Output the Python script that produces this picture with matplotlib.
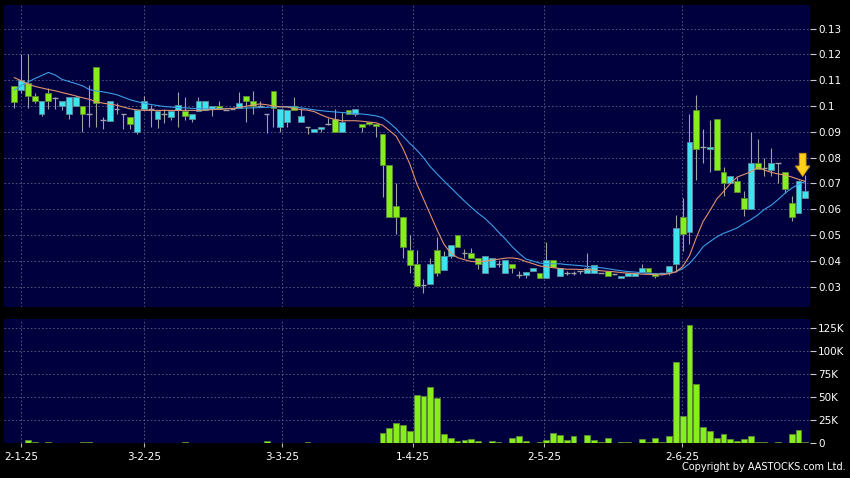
import matplotlib
matplotlib.use("Agg")
import matplotlib.pyplot as plt
from matplotlib.patches import FancyArrow

# daily candles, 31-12-24 .. early 6-25 (one entry per trading day)
opens = [0.1077, 0.1061, 0.109, 0.104, 0.097, 0.105, 0.103, 0.100, 0.097, 0.100,
         0.100, 0.097, 0.115, 0.0945, 0.0942, 0.099, 0.097, 0.0958, 0.090, 0.099,
         0.099, 0.095, 0.097, 0.0958, 0.0983, 0.098, 0.095, 0.098, 0.0983, 0.099,
         0.100, 0.0985, 0.099, 0.0994, 0.104, 0.102, 0.100, 0.097, 0.106, 0.092,
         0.0938, 0.100, 0.0938, 0.092, 0.090, 0.091, 0.093, 0.095, 0.090, 0.0983,
         0.0968, 0.0932, 0.094, 0.0932, 0.089, 0.077, 0.0613, 0.057, 0.0443, 0.039,
         0.0308, 0.031, 0.0443, 0.0366, 0.042, 0.050, 0.043, 0.043, 0.041, 0.0353,
         0.0375, 0.039, 0.0353, 0.039, 0.0344, 0.0344, 0.0362, 0.0353, 0.0334, 0.0404,
         0.034, 0.0355, 0.0355, 0.036, 0.0353, 0.0353, 0.0355, 0.036, 0.035, 0.0334,
         0.034, 0.034, 0.0359, 0.0372, 0.0353, 0.0355, 0.0357, 0.039, 0.057, 0.0513,
         0.0983, 0.084, 0.0833, 0.095, 0.0743, 0.070, 0.0709, 0.0642, 0.060, 0.078,
         0.076, 0.0752, 0.078, 0.0743, 0.0623, 0.0585, 0.0642]
highs = [0.1077, 0.120, 0.120, 0.1049, 0.102, 0.107, 0.1035, 0.102, 0.1036, 0.104,
         0.100, 0.108, 0.115, 0.0957, 0.102, 0.101, 0.097, 0.0958, 0.0986, 0.104,
         0.1003, 0.098, 0.099, 0.098, 0.1054, 0.1033, 0.097, 0.1033, 0.102, 0.1001,
         0.1019, 0.0985, 0.099, 0.1053, 0.104, 0.106, 0.102, 0.097, 0.106, 0.099,
         0.0983, 0.1035, 0.0994, 0.092, 0.091, 0.092, 0.0955, 0.099, 0.0975, 0.0983,
         0.099, 0.0932, 0.094, 0.0932, 0.089, 0.077, 0.070, 0.057, 0.050, 0.0443,
         0.033, 0.041, 0.0494, 0.044, 0.0462, 0.050, 0.0448, 0.0452, 0.041, 0.042,
         0.041, 0.0405, 0.0404, 0.039, 0.036, 0.0359, 0.0372, 0.0353, 0.0475, 0.0404,
         0.0372, 0.036, 0.036, 0.036, 0.043, 0.0385, 0.0355, 0.036, 0.035, 0.034,
         0.0353, 0.0353, 0.039, 0.0372, 0.0353, 0.0355, 0.0382, 0.0578, 0.0642, 0.097,
         0.1041, 0.091, 0.0947, 0.095, 0.0765, 0.073, 0.0725, 0.067, 0.090, 0.0874,
         0.080, 0.0836, 0.078, 0.0745, 0.065, 0.0712, 0.0732]
lows = [0.0992, 0.1050, 0.0991, 0.101, 0.096, 0.099, 0.099, 0.0983, 0.0951, 0.100,
        0.090, 0.0919, 0.092, 0.0911, 0.0942, 0.097, 0.091, 0.091, 0.089, 0.099,
        0.092, 0.0913, 0.0935, 0.0945, 0.092, 0.0945, 0.094, 0.098, 0.0983, 0.0961,
        0.099, 0.0985, 0.099, 0.0994, 0.0938, 0.097, 0.100, 0.0895, 0.092, 0.090,
        0.092, 0.0983, 0.0938, 0.089, 0.090, 0.090, 0.0925, 0.090, 0.090, 0.0968,
        0.0962, 0.090, 0.0925, 0.088, 0.0649, 0.057, 0.0505, 0.0411, 0.0353, 0.0304,
        0.0277, 0.031, 0.034, 0.0366, 0.041, 0.0456, 0.041, 0.0411, 0.0368, 0.0353,
        0.0375, 0.0375, 0.0353, 0.0355, 0.0335, 0.0335, 0.0362, 0.0334, 0.0334, 0.0375,
        0.034, 0.0345, 0.0345, 0.0348, 0.0353, 0.0353, 0.0355, 0.034, 0.0345, 0.0334,
        0.034, 0.034, 0.0359, 0.0359, 0.0335, 0.0355, 0.0345, 0.0357, 0.0439, 0.0467,
        0.0714, 0.078, 0.0745, 0.0752, 0.065, 0.070, 0.0668, 0.0576, 0.060, 0.0756,
        0.073, 0.073, 0.070, 0.0665, 0.0554, 0.0585, 0.0642]
closes = [0.1017, 0.110, 0.104, 0.102, 0.102, 0.102, 0.103, 0.102, 0.1033, 0.1033,
          0.097, 0.097, 0.101, 0.0945, 0.102, 0.099, 0.097, 0.0932, 0.0986, 0.102,
          0.099, 0.098, 0.097, 0.098, 0.1003, 0.096, 0.097, 0.102, 0.102, 0.100,
          0.099, 0.0985, 0.099, 0.101, 0.102, 0.100, 0.100, 0.097, 0.0994, 0.099,
          0.0983, 0.0983, 0.096, 0.092, 0.091, 0.092, 0.093, 0.090, 0.094, 0.0968,
          0.099, 0.092, 0.093, 0.0922, 0.077, 0.057, 0.0571, 0.0453, 0.0385, 0.0305,
          0.0308, 0.039, 0.0353, 0.042, 0.0462, 0.0456, 0.043, 0.0411, 0.0389, 0.042,
          0.041, 0.039, 0.0404, 0.0372, 0.0344, 0.0359, 0.0372, 0.0334, 0.0404, 0.0375,
          0.0372, 0.0355, 0.0355, 0.036, 0.0372, 0.0385, 0.0355, 0.034, 0.035, 0.034,
          0.0353, 0.0353, 0.0372, 0.0359, 0.034, 0.0355, 0.0382, 0.0527, 0.0503, 0.0861,
          0.0833, 0.084, 0.0841, 0.0752, 0.070, 0.073, 0.0668, 0.060, 0.078, 0.0756,
          0.076, 0.078, 0.078, 0.068, 0.0571, 0.071, 0.067]

# 10-day and 20-day averages as drawn on the chart
ma10 = [0.1110, 0.1098, 0.1085, 0.1076, 0.1070, 0.1064, 0.1059, 0.1052, 0.1046, 0.1039,
        0.1032, 0.1026, 0.1017, 0.1011, 0.1007, 0.1003, 0.0996, 0.0989, 0.0985, 0.0983,
        0.0983, 0.0983, 0.0983, 0.0983, 0.0983, 0.0983, 0.0983, 0.0983, 0.0984, 0.0986,
        0.0987, 0.0989, 0.0990, 0.0995, 0.0999, 0.1004, 0.1008, 0.1005, 0.1000, 0.0997,
        0.0996, 0.0990, 0.0986, 0.0984, 0.0978, 0.0966, 0.0955, 0.0948, 0.0943, 0.0943,
        0.0943, 0.0941, 0.0938, 0.0935, 0.0926, 0.0905, 0.0883, 0.0835, 0.0775, 0.0700,
        0.0640, 0.0580, 0.0520, 0.0465, 0.0430, 0.0413, 0.0405, 0.0398, 0.0397, 0.0399,
        0.0403, 0.0407, 0.0411, 0.0412, 0.0408, 0.0398, 0.0390, 0.0381, 0.0377, 0.0374,
        0.0371, 0.0368, 0.0368, 0.0367, 0.0366, 0.0365, 0.0362, 0.0360, 0.0358, 0.0355,
        0.0353, 0.0351, 0.0349, 0.0348, 0.0347, 0.0346, 0.0351, 0.0358, 0.0378, 0.0420,
        0.0490, 0.0553, 0.0595, 0.0640, 0.0669, 0.0700, 0.0725, 0.0735, 0.0745, 0.0762,
        0.0752, 0.0743, 0.0737, 0.0733, 0.0725, 0.0716, 0.0708]
ma20 = [0.1062, 0.1079, 0.1093, 0.1106, 0.1118, 0.1130, 0.1120, 0.1103, 0.1095, 0.1087,
        0.1078, 0.1064, 0.1058, 0.1055, 0.1050, 0.1044, 0.1034, 0.1024, 0.1017, 0.1011,
        0.1006, 0.1002, 0.0998, 0.0996, 0.0994, 0.0993, 0.0991, 0.0990, 0.0989, 0.0988,
        0.0989, 0.0990, 0.0991, 0.0992, 0.0992, 0.0993, 0.0994, 0.0995, 0.0996, 0.0997,
        0.0998, 0.0997, 0.0993, 0.0989, 0.0985, 0.0982, 0.0979, 0.0977, 0.0975, 0.0973,
        0.0971, 0.0969, 0.0966, 0.0962, 0.0955, 0.0935, 0.0912, 0.0883, 0.0855, 0.0830,
        0.0800, 0.0765, 0.0737, 0.0710, 0.0684, 0.0658, 0.0632, 0.0608, 0.0585, 0.0565,
        0.0540, 0.0512, 0.0485, 0.0455, 0.0430, 0.0408, 0.0400, 0.0392, 0.0389, 0.0389,
        0.0389, 0.0386, 0.0384, 0.0382, 0.0379, 0.0376, 0.0374, 0.0370, 0.0366, 0.0362,
        0.0359, 0.0357, 0.0354, 0.0352, 0.0350, 0.0349, 0.0352, 0.0358, 0.0370, 0.0390,
        0.0420, 0.0455, 0.0475, 0.0493, 0.0507, 0.0517, 0.0528, 0.0545, 0.0560, 0.0578,
        0.0600, 0.0616, 0.0638, 0.0662, 0.0682, 0.0697, 0.0708]

# volume in thousands of shares
volume_k = [0.3, 0.5, 3.5, 1.0, 0.3, 1.0, 0.3, 0.3, 0.3, 0.3,
            1.2, 1.2, 0.3, 0.3, 0.3, 0.3, 0.3, 0.8, 0.3, 0.3,
            0.3, 0.3, 0.3, 0.3, 0.3, 1.2, 0.3, 0.3, 0.3, 0.3,
            0.3, 0.3, 0.3, 0.8, 0.8, 0.3, 0.3, 2.8, 0.3, 0.3,
            0.3, 0.3, 0.3, 1.3, 0.3, 0.3, 0.8, 0.3, 0.3, 0.3,
            0.3, 0.3, 0.3, 0.3, 11.5, 17.0, 21.7, 19.9, 13.7, 52.5,
            51.7, 61.5, 48.9, 9.8, 5.4, 2.9, 3.3, 4.3, 3.0, 0.5,
            2.0, 1.3, 0.3, 5.4, 7.9, 2.5, 0.3, 1.3, 3.3, 11.2,
            9.0, 3.3, 7.9, 0.3, 9.0, 3.3, 1.0, 5.4, 0.3, 1.0,
            1.0, 0.3, 4.3, 1.3, 5.8, 1.8, 8.3, 88.7, 29.7, 128.6,
            64.5, 17.4, 13.7, 6.2, 9.8, 4.3, 2.5, 4.3, 7.9, 1.8,
            1.3, 0.3, 1.3, 0.5, 9.8, 14.5, 1.3]

date_labels = ['2-1-25', '3-2-25', '3-3-25', '1-4-25', '2-5-25', '2-6-25']
date_pos = [1, 19, 39.25, 58.45, 77.7, 97.95]

price_ticks = [0.03, 0.04, 0.05, 0.06, 0.07, 0.08, 0.09, 0.10, 0.11, 0.12, 0.13]
price_labels = ['0.03', '0.04', '0.05', '0.06', '0.07', '0.08', '0.09', '0.1', '0.11', '0.12', '0.13']
vol_ticks = [0, 25, 50, 75, 100, 125]
vol_labels = ['0', '25K', '50K', '75K', '100K', '125K']

BG = '#00003f'
UP = '#3de3ef'
DOWN = '#86ee1e'
GRID = '#5f5f86'


def style_axis(ax):
    ax.set_facecolor(BG)
    for s in ax.spines.values():
        s.set_visible(False)
    ax.set_xlim(-1.51, 116.67)
    ax.yaxis.tick_right()
    ax.tick_params(axis='y', colors='#cccccc', labelcolor='white', length=4,
                   width=0.8, labelsize=7.5, pad=2)
    ax.grid(True, color=GRID, linestyle=(0, (2, 2.5)), linewidth=0.6)
    ax.set_axisbelow(True)


fig = plt.figure(figsize=(8.5, 4.78), dpi=100, facecolor='black')
ax = fig.add_axes([0.0047, 0.3584, 0.9482, 0.6311])
axv = fig.add_axes([0.0047, 0.0726, 0.9482, 0.2594])

# price panel
style_axis(ax)
n = len(closes)
idx = list(range(n))
ax.vlines(idx, lows, highs, color='#a0a0a0', linewidth=0.8, zorder=2)
for i in idx:
    o, c = opens[i], closes[i]
    if abs(o - c) < 1e-9:
        ax.hlines(c, i - 0.42, i + 0.42, color='#a0a0a0', linewidth=1.0, zorder=3)
    elif c > o:
        ax.bar(i, c - o, bottom=o, width=0.85, color=UP, edgecolor='#5d8c99',
               linewidth=0.6, zorder=3)
    else:
        ax.bar(i, o - c, bottom=c, width=0.85, color=DOWN, edgecolor='#5e8a33',
               linewidth=0.6, zorder=3)
ax.plot(idx, ma20, color='#3b9de6', linewidth=0.8, zorder=4)
ax.plot(idx, ma10, color='#e2916b', linewidth=0.8, zorder=4)
ax.set_ylim(0.0223, 0.1391)
ax.set_yticks(price_ticks)
ax.set_yticklabels(price_labels)
ax.set_xticks(date_pos)
ax.tick_params(axis='x', length=0, labelbottom=False)

# marker arrow over the last candles
ax.add_patch(FancyArrow(115.6, 0.0817, 0, -0.0090, width=1.0, head_width=2.15,
                        head_length=0.0041, length_includes_head=True,
                        facecolor='#ffcf1c', edgecolor='#c98f00', linewidth=0.6, zorder=6))

# volume panel
style_axis(axv)
axv.bar(idx, volume_k, width=0.85, color=DOWN, edgecolor='#5e8a33', linewidth=0.6, zorder=3)
axv.set_ylim(0, 134.8)
axv.set_yticks(vol_ticks)
axv.set_yticklabels(vol_labels)
axv.set_xticks(date_pos)
axv.set_xticklabels(date_labels)
axv.tick_params(axis='x', colors='#bbbbbb', labelcolor='white', length=3,
                width=0.8, labelsize=7.5, pad=3)

fig.text(0.995, 0.012, 'Copyright by AASTOCKS.com Ltd.', color='white',
         fontsize=7, ha='right', va='bottom')

fig.savefig('out.png', dpi=100, facecolor='black')
